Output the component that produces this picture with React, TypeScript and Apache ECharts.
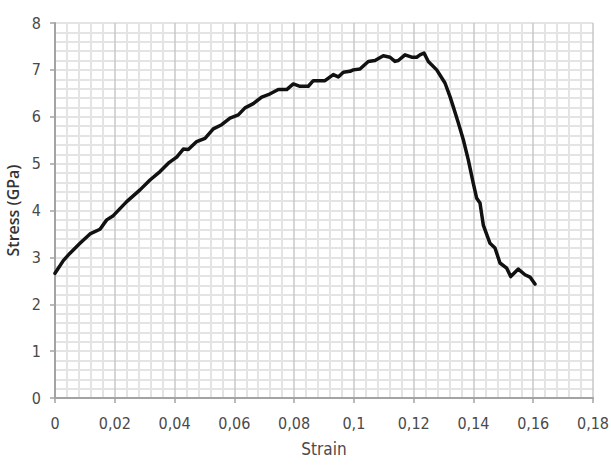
import React, { useEffect, useRef } from "react";
import * as echarts from "echarts";

const strain = [
  0, 0.00278, 0.00502, 0.00836, 0.01171, 0.01506, 0.0173, 0.0195, 0.02399, 0.02844,
  0.03178, 0.03513, 0.03791, 0.04072, 0.04293, 0.0446, 0.04741, 0.05019, 0.05296, 0.05577,
  0.05855, 0.06133, 0.06357, 0.06634, 0.06916, 0.07136, 0.07471, 0.07752, 0.07973, 0.08197,
  0.08475, 0.08642, 0.09033, 0.09311, 0.09478, 0.09646, 0.0987, 0.0998, 0.10204, 0.10482,
  0.10706, 0.10984, 0.11208, 0.11375, 0.11486, 0.1171, 0.11934, 0.12101, 0.12212, 0.12346,
  0.1249, 0.12771, 0.13048, 0.13216, 0.13326, 0.13493, 0.13661, 0.13828, 0.13995, 0.14109,
  0.14219, 0.1433, 0.14554, 0.14721, 0.14888, 0.15113, 0.15247, 0.15501, 0.15725, 0.15892,
  0.16059,
];

const stress = [
  2.66, 2.93, 3.09, 3.3, 3.5, 3.6, 3.8, 3.89, 4.19, 4.44,
  4.65, 4.83, 5.01, 5.14, 5.31, 5.3, 5.47, 5.54, 5.74, 5.83,
  5.97, 6.04, 6.19, 6.28, 6.42, 6.47, 6.58, 6.58, 6.7, 6.65,
  6.65, 6.77, 6.77, 6.9, 6.85, 6.95, 6.97, 7.0, 7.02, 7.18,
  7.2, 7.3, 7.27, 7.18, 7.2, 7.32, 7.27, 7.27, 7.32, 7.36,
  7.18, 7.0, 6.72, 6.43, 6.21, 5.87, 5.51, 5.08, 4.58, 4.26,
  4.16, 3.69, 3.3, 3.2, 2.88, 2.77, 2.59, 2.75, 2.63, 2.58,
  2.43,
];

const xTitle = "Strain";
const yTitle = "Stress (GPa)";

const fmtX = (v: number) => (v === 0 ? "0" : String(+v.toFixed(2)).replace(".", ","));

export default function App() {
  const ref = useRef<HTMLDivElement>(null);
  useEffect(() => {
    if (!ref.current) return;
    const chart = echarts.init(ref.current, null, { renderer: "svg" });
    const labelColor = "#4a4a4a";
    const font = "'DejaVu Sans Condensed', 'Open Sans', sans-serif";
    const titleFont = "'Open Sans', sans-serif";
    const axisColor = "#a3a3a3";
    const minorColor = "#e4e4e4";
    chart.setOption({
      animation: false,
      backgroundColor: "#ffffff",
      grid: { left: 55, right: 18, top: 23, bottom: 71, containLabel: false, outerBoundsMode: "none" },
      xAxis: {
        type: "value",
        min: 0,
        max: 0.18,
        interval: 0.02,
        name: xTitle,
        nameLocation: "middle",
        nameGap: 42,
        nameTextStyle: { color: labelColor, fontFamily: font, fontSize: 17 },
        axisLine: { show: true, onZero: false, lineStyle: { color: axisColor, width: 2 } },
        axisTick: { show: true, length: 5, lineStyle: { color: axisColor, width: 1.5 } },
        axisLabel: { formatter: fmtX, color: labelColor, fontFamily: font, fontSize: 16, margin: 17 },
        splitLine: { show: true, lineStyle: { color: "#c8c8c8", width: 1.5 } },
        minorTick: { show: false, splitNumber: 5 },
        minorSplitLine: { show: true, lineStyle: { color: minorColor, width: 2 } },
      },
      yAxis: {
        type: "value",
        min: 0,
        max: 8,
        interval: 1,
        name: yTitle,
        nameLocation: "middle",
        nameGap: 30,
        nameRotate: 90,
        nameTextStyle: { color: "#333333", fontFamily: titleFont, fontSize: 16, fontWeight: 600 },
        axisLine: { show: true, lineStyle: { color: axisColor, width: 2 } },
        axisTick: { show: true, length: 5, lineStyle: { color: axisColor, width: 1.5 } },
        axisLabel: { color: labelColor, fontFamily: font, fontSize: 16, margin: 14 },
        splitLine: { show: true, lineStyle: { color: minorColor, width: 2 } },
        minorTick: { show: false, splitNumber: 5 },
        minorSplitLine: { show: true, lineStyle: { color: minorColor, width: 2 } },
      },
      series: [
        {
          type: "line",
          data: strain.map((x, i) => [x, stress[i]]),
          showSymbol: false,
          smooth: false,
          lineStyle: { color: "#111111", width: 3.5, join: "round", cap: "round" },
        },
      ],
    });
    return () => chart.dispose();
  }, []);
  return (
    <div
      ref={ref}
      style={{ position: "fixed", left: 0, top: 0, width: 611, height: 469, background: "#fff" }}
    />
  );
}
